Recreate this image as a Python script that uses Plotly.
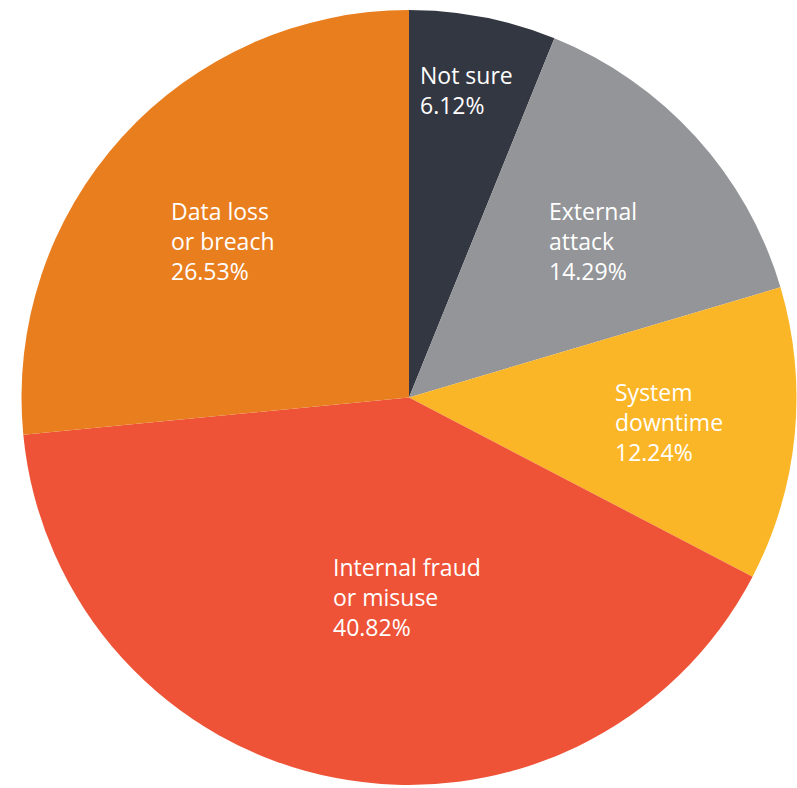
import math
import plotly.graph_objects as go

# Responses (count of respondents) per incident category, clockwise from 12 o'clock
categories = ["Not sure", "External attack", "System downtime", "Internal fraud or misuse", "Data loss or breach"]
label_lines = [["Not sure"], ["External", "attack"], ["System", "downtime"],
               ["Internal fraud", "or misuse"], ["Data loss", "or breach"]]
counts = [3, 7, 6, 20, 13]
colors = ["#333741", "#939598", "#FBB627", "#EE5337", "#E97E1F"]

# label anchor (left edge, vertical middle): fraction of radius and angular
# nudge (degrees) from the slice midpoint
label_rfrac = [0.794, 0.542, 0.535, 0.551, 0.735]
label_dang = [-8.97, -5.96, 1.27, 9.83, -8.91]

W, H = 797, 788
dom_x = [21 / W, 1.0]
dom_y = [3 / H, 778 / H]

fig = go.Figure(go.Pie(
    labels=categories,
    values=counts,
    sort=False,
    direction="clockwise",
    rotation=0,
    marker=dict(colors=colors, line=dict(width=0)),
    textinfo="none",
    hoverinfo="label+percent",
    showlegend=False,
    domain=dict(x=dom_x, y=dom_y),
))

# pie geometry in pixels
dw = (dom_x[1] - dom_x[0]) * W
dh = (dom_y[1] - dom_y[0]) * H
r = min(dw, dh) / 2
cx = dom_x[0] * W + dw / 2
cy = (1 - dom_y[1]) * H + dh / 2

total = sum(counts)
cum = 0
for i, v in enumerate(counts):
    mid = (cum + v / 2) / total * 360 + label_dang[i]
    cum += v
    a = math.radians(mid)
    px = cx + label_rfrac[i] * r * math.sin(a)
    py = cy - label_rfrac[i] * r * math.cos(a)
    pct = v / total * 100
    text = "<br>".join(label_lines[i] + [f"{pct:.2f}%"])
    fig.add_annotation(
        x=px / W, y=1 - py / H, xref="paper", yref="paper",
        text=text, showarrow=False, align="left",
        xanchor="left", yanchor="middle", xshift=-2,
        font=dict(family="Open Sans", size=23, color="white"),
    )

fig.update_layout(
    width=W, height=H,
    margin=dict(l=0, r=0, t=0, b=0),
    paper_bgcolor="white",
    plot_bgcolor="white",
)

fig.write_html("out.html")
